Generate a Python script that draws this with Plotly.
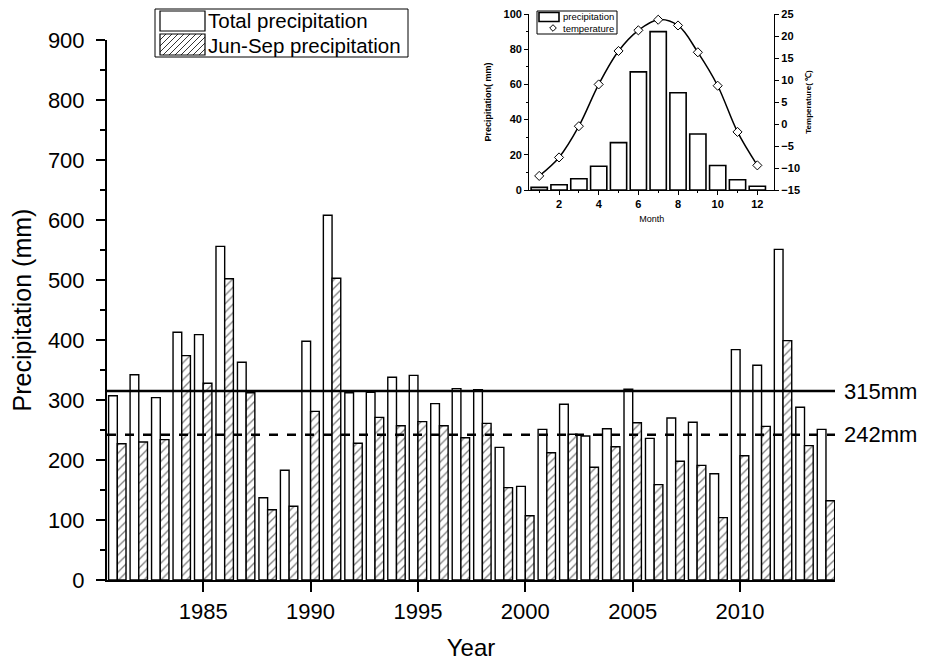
import plotly.graph_objects as go

# ---------------- data ----------------
years = list(range(1981, 2015))
total_precip = [307, 342, 304, 413, 409, 556, 363, 137, 183, 398,
                608, 312, 313, 338, 341, 294, 319, 317, 221, 156,
                251, 293, 240, 252, 318, 236, 270, 263, 177, 384,
                358, 551, 288, 251]
junsep_precip = [227, 230, 234, 374, 328, 502, 312, 117, 123, 281,
                 503, 228, 271, 257, 264, 257, 237, 261, 154, 107,
                 212, 243, 188, 222, 262, 159, 198, 191, 104, 207,
                 256, 399, 224, 132]
mean_total = 315
mean_junsep = 242
mean_labels = ["315mm", "242mm"]
year_ticks = [1985, 1990, 1995, 2000, 2005, 2010]
series_names = ["Total precipitation", "Jun-Sep precipitation"]

months = list(range(1, 13))
month_precip = [1.5, 3.0, 6.4, 13.5, 26.9, 67.1, 90.0, 55.3, 31.8, 13.9, 5.8, 2.1]
month_temp = [-11.8, -7.6, -0.5, 9.0, 16.6, 21.3, 23.7, 22.4, 16.3, 8.7, -1.8, -9.4]
inset_names = ["precipitation", "temperature"]

FONT = "Liberation Sans, Arial, sans-serif"
OFF = 8                      # page body margin
W, H = 925 - 2 * OFF, 669 - 2 * OFF
L = 107 - OFF
R = W - (835 - OFF)
T = 0
B = H - (580 - OFF)
pw, ph = W - L - R, H - T - B


def px(xs):  # screen x -> paper
    return (xs - OFF - L) / pw


def py(ys):  # screen y -> paper
    return (H - B - (ys - OFF)) / ph


fig = go.Figure()

fig.add_trace(go.Bar(
    x=years, y=total_precip, name=series_names[0], showlegend=False,
    marker=dict(color="white", line=dict(color="black", width=1.4)),
    xaxis="x", yaxis="y"))
fig.add_trace(go.Bar(
    x=years, y=junsep_precip, name=series_names[1], showlegend=False,
    marker=dict(color="white", line=dict(color="black", width=1.4),
                pattern=dict(shape="/", fgcolor="black", bgcolor="white",
                             size=6, solidity=0.22)),
    xaxis="x", yaxis="y"))

# inset
fig.add_trace(go.Bar(
    x=months, y=month_precip, name=inset_names[0], width=0.82, showlegend=False,
    marker=dict(color="white", line=dict(color="black", width=1.6)),
    xaxis="x2", yaxis="y2"))
fig.add_trace(go.Scatter(
    x=months, y=month_temp, name=inset_names[1], mode="lines+markers",
    showlegend=False,
    line=dict(color="black", width=1.5, shape="spline"),
    marker=dict(symbol="diamond", size=7, color="white",
                line=dict(color="black", width=1)),
    xaxis="x2", yaxis="y3"))

# mean lines
fig.add_shape(type="line", xref="x domain", yref="y", x0=0, x1=1,
              y0=mean_total, y1=mean_total, line=dict(color="black", width=2.5))
fig.add_shape(type="line", xref="x domain", yref="y", x0=0, x1=1,
              y0=mean_junsep, y1=mean_junsep,
              line=dict(color="black", width=2.5, dash="dash"))
for val, lab in zip([mean_total, mean_junsep], mean_labels):
    fig.add_annotation(x=px(842), xref="paper", y=val, yref="y", text=lab,
                       showarrow=False, xanchor="left", yanchor="middle",
                       font=dict(family=FONT, size=22, color="black"))


def rect(x0, y0, x1, y1, lw=1.0, fill="white"):
    fig.add_shape(type="rect", xref="paper", yref="paper",
                  x0=px(x0), x1=px(x1), y0=py(y1), y1=py(y0),
                  line=dict(color="black", width=lw), fillcolor=fill)


def seg(x0, y0, x1, y1, lw=1.0):
    fig.add_shape(type="line", xref="paper", yref="paper",
                  x0=px(x0), x1=px(x1), y0=py(y0), y1=py(y1),
                  line=dict(color="black", width=lw))


def label(x, y, text, size, bold=False):
    fig.add_annotation(x=px(x), y=py(y), xref="paper", yref="paper", text=text,
                       showarrow=False, xanchor="left", yanchor="middle",
                       xshift=-2,
                       font=dict(family=FONT, size=size, color="black",
                                 weight="bold" if bold else "normal"))


# ---- main legend (drawn) ----
rect(155, 9, 408, 57, lw=1)
rect(160, 11, 205, 31, lw=1.2)
rect(160, 34, 205, 55, lw=1.2)
sx0, sx1, sy0, sy1 = 160, 205, 34, 55
hgt = sy1 - sy0
c = -hgt
while c < (sx1 - sx0):
    t0 = max(0.0, -c / hgt)
    t1 = min(1.0, (sx1 - sx0 - c) / hgt)
    if t1 > t0:
        seg(sx0 + c + hgt * t0, sy1 - hgt * t0, sx0 + c + hgt * t1, sy1 - hgt * t1, lw=0.8)
    c += 6
label(208, 21, series_names[0], 20.5)
label(208, 45, series_names[1], 20.5)

# ---- inset legend (drawn) ----
rect(537, 11, 617, 34, lw=1)
rect(539, 12.5, 559, 21.5, lw=1.6)
dx, dy, r = 553, 28, 3.3
fig.add_shape(type="path", xref="paper", yref="paper",
              path=(f"M{px(dx - r)},{py(dy)} L{px(dx)},{py(dy - r)} "
                    f"L{px(dx + r)},{py(dy)} L{px(dx)},{py(dy + r)} Z"),
              line=dict(color="black", width=1), fillcolor="white")
label(563, 17, inset_names[0], 9.5)
label(563, 28, inset_names[1], 9.5)

main_top = py(40)
fig.update_layout(
    width=W, height=H,
    margin=dict(l=L, r=R, t=T, b=B, autoexpand=False),
    paper_bgcolor="white", plot_bgcolor="white",
    barmode="group", bargap=0.19, bargroupgap=0,
    font=dict(family=FONT, color="black"),
    showlegend=False,
    xaxis=dict(range=[1980.52, 2014.42], domain=[0, 1], tickvals=year_ticks,
               ticks="outside", ticklen=10, tickwidth=2, tickcolor="black",
               showline=True, linecolor="black", linewidth=2, showgrid=False,
               zeroline=False, automargin=False, ticklabelstandoff=1,
               tickfont=dict(size=22, family=FONT),
               title=dict(text="Year", font=dict(size=24, family=FONT), standoff=16)),
    yaxis=dict(range=[0, 900], domain=[0, main_top], dtick=100,
               ticks="outside", ticklen=9, tickwidth=2, tickcolor="black",
               minor=dict(dtick=50, ticks="outside", ticklen=5, tickwidth=1.5,
                          tickcolor="black"),
               showline=True, linecolor="black", linewidth=2, showgrid=False,
               zeroline=False, automargin=False, ticklabelstandoff=7,
               ticklabeloverflow="allow",
               tickfont=dict(size=22, family=FONT),
               title=dict(text="Precipitation (mm)", font=dict(size=25, family=FONT),
                          standoff=16)),
    xaxis2=dict(range=[0.5, 12.84], domain=[px(529.3), px(774)], anchor="y2",
                dtick=2, tick0=0, ticks="outside", ticklen=4, tickwidth=1.3,
                minor=dict(dtick=1, ticks="outside", ticklen=2, tickcolor="black"),
                showline=True, linecolor="black", linewidth=1.3, showgrid=False,
                zeroline=False, tickcolor="black", automargin=False,
                ticklabeloverflow="allow",
                tickfont=dict(size=11, family=FONT, weight="bold"),
                title=dict(text="Month", font=dict(size=9, family=FONT), standoff=6)),
    yaxis2=dict(range=[0, 100.01], domain=[py(190), py(14)], anchor="x2",
                tickvals=[0, 20, 40, 60, 80, 100], ticks="outside", ticklen=4,
                tickwidth=1.3,
                minor=dict(dtick=10, ticks="outside", ticklen=2, tickcolor="black"),
                showline=True, linecolor="black", linewidth=1.3, showgrid=False,
                zeroline=False, tickcolor="black", automargin=False,
                ticklabeloverflow="allow",
                tickfont=dict(size=11, family=FONT, weight="bold"),
                title=dict(text="Precipitation( mm)",
                           font=dict(size=9, family=FONT, weight="bold"), standoff=10)),
    yaxis3=dict(range=[-15, 25.004], overlaying="y2", side="right", anchor="x2",
                tickvals=[-15, -10, -5, 0, 5, 10, 15, 20, 25], ticks="outside",
                ticklen=4, tickwidth=1.3,
                showline=True, linecolor="black", linewidth=1.3, showgrid=False,
                zeroline=False, tickcolor="black", automargin=False,
                ticklabeloverflow="allow",
                tickfont=dict(size=11, family=FONT, weight="bold"),
                title=dict(text="Temperature( ℃)",
                           font=dict(size=8, family=FONT, weight="bold"), standoff=6)),
)

fig.write_html("out.html")
